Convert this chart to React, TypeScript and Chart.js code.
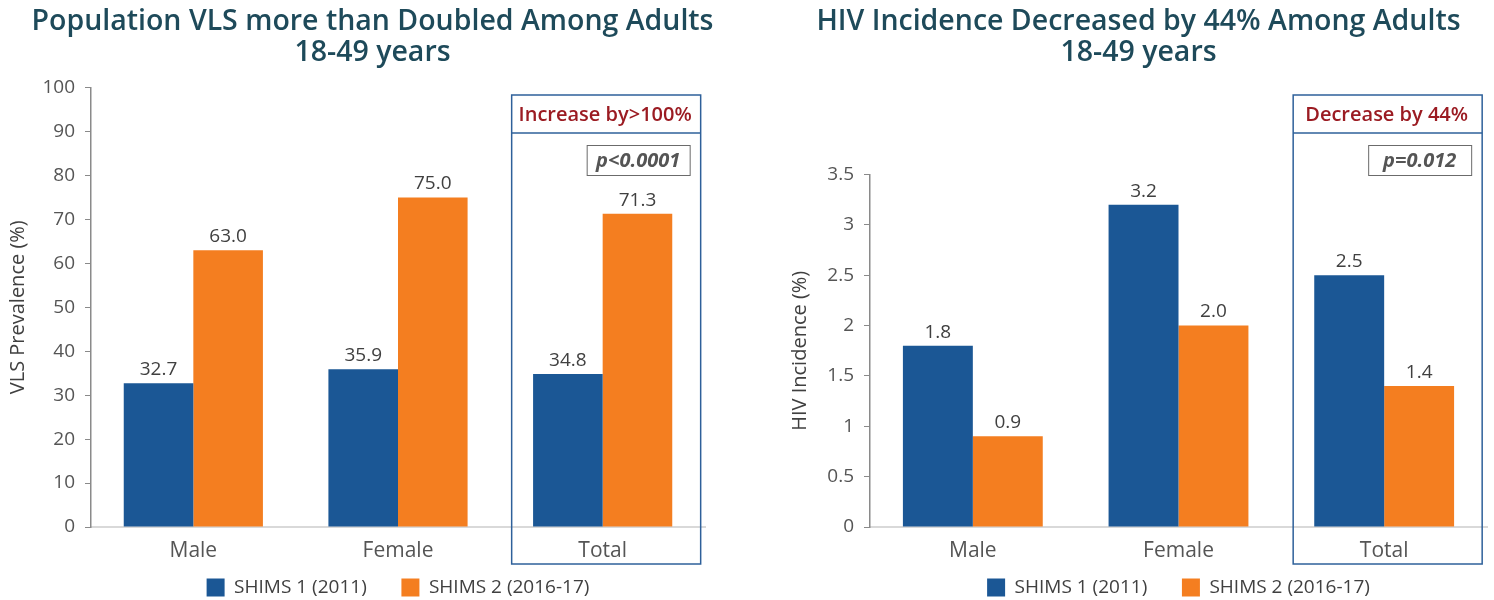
import React, { useEffect, useRef } from "react";
import { Chart, registerables } from "chart.js";

Chart.register(...registerables);

const categories = ["Male", "Female", "Total"];
const seriesNames = ["SHIMS 1 (2011)", "SHIMS 2 (2016-17)"];
const seriesColors = ["#1b5795", "#f47e20"];

const vlsShims1 = [32.7, 35.9, 34.8];
const vlsShims2 = [63.0, 75.0, 71.3];
const vlsAxis = { min: 0, max: 100, step: 10 };

const incShims1 = [1.8, 3.2, 2.5];
const incShims2 = [0.9, 2.0, 1.4];
const incAxis = { min: 0, max: 3.5, step: 0.5 };

const leftTitle = ["Population VLS more than Doubled Among Adults", "18-49 years"];
const rightTitle = ["HIV Incidence Decreased by 44% Among Adults", "18-49 years"];
const leftYTitle = "VLS Prevalence (%)";
const rightYTitle = "HIV Incidence (%)";
const leftHeader = "Increase by>100%";
const rightHeader = "Decrease by 44%";
const leftP = "p<0.0001";
const rightP = "p=0.012";

const FONT = '"Open Sans", "Noto Sans", sans-serif';

const panelPlugin = {
  id: "panelAnnotations",
  afterDatasetsDraw(chart: any) {
    const ctx = chart.ctx;
    ctx.save();
    ctx.font = `19px ${FONT}`;
    ctx.fillStyle = "#404040";
    ctx.textAlign = "center";
    ctx.textBaseline = "bottom";
    chart.data.datasets.forEach((ds: any, di: number) => {
      const meta = chart.getDatasetMeta(di);
      meta.data.forEach((el: any, i: number) => {
        ctx.fillText(Number(ds.data[i]).toFixed(1), el.x, el.y - 4);
      });
    });
    ctx.restore();
  },
  afterDraw(chart: any, _args: any, opts: any) {
    const ctx = chart.ctx;
    const xs = chart.scales.x;
    const cx = xs.getPixelForValue(opts.boxIndex);
    const left = cx - 91;
    const right = cx + 98;
    const top = 95;
    const sep = 133;
    const bottom = chart.chartArea.bottom + 37;
    ctx.save();
    ctx.strokeStyle = "#2e609a";
    ctx.lineWidth = 1.5;
    ctx.strokeRect(left, top, right - left, bottom - top);
    ctx.beginPath();
    ctx.moveTo(left, sep);
    ctx.lineTo(right, sep);
    ctx.stroke();
    ctx.fillStyle = "#9b1b22";
    ctx.font = `600 20px ${FONT}`;
    ctx.textAlign = "center";
    ctx.textBaseline = "middle";
    ctx.fillText(opts.header, (left + right) / 2 - 1, (top + sep) / 2 + 1);
    // p-value box
    const pl = cx - 16;
    const pr = cx + 87;
    const pt = 145;
    const pb = 175;
    ctx.fillStyle = "#ffffff";
    ctx.fillRect(pl, pt, pr - pl, pb - pt);
    ctx.strokeStyle = "#6b6b6b";
    ctx.lineWidth = 1;
    ctx.strokeRect(pl + 0.5, pt + 0.5, pr - pl, pb - pt);
    ctx.fillStyle = "#555555";
    ctx.font = `italic 700 20px ${FONT}`;
    ctx.fillText(opts.pText, (pl + pr) / 2, (pt + pb) / 2 + 1);
    ctx.restore();
  },
};

type PanelProps = {
  left: number;
  title: string[];
  yTitle: string;
  s1: number[];
  s2: number[];
  axis: { min: number; max: number; step: number };
  header: string;
  pText: string;
  padLeft: number;
  padRight: number;
  yWidth: number;
  rightWidth: number;
  titleBottom: number;
  yTitlePad: number;
};

function Panel(p: PanelProps) {
  const ref = useRef<HTMLCanvasElement | null>(null);
  useEffect(() => {
    if (!ref.current) return;
    const chart = new Chart(ref.current, {
      type: "bar",
      data: {
        labels: categories,
        datasets: [
          {
            label: seriesNames[0],
            data: p.s1,
            backgroundColor: seriesColors[0],
            borderWidth: 0,
            categoryPercentage: 0.68,
            barPercentage: 1,
          },
          {
            label: seriesNames[1],
            data: p.s2,
            backgroundColor: seriesColors[1],
            borderWidth: 0,
            categoryPercentage: 0.68,
            barPercentage: 1,
          },
        ],
      },
      options: {
        responsive: false,
        maintainAspectRatio: false,
        animation: false,
        devicePixelRatio: 1,
        layout: { padding: { left: p.padLeft, right: p.padRight, top: 0, bottom: -7 } },
        plugins: {
          tooltip: { enabled: false },
          title: {
            display: true,
            text: p.title,
            color: "#1e4a5a",
            font: { family: FONT, size: 28.5, weight: "600", lineHeight: 1.088 },
            padding: { top: 6.5, bottom: p.titleBottom },
          },
          legend: {
            position: "bottom",
            fullSize: false,
            labels: {
              boxWidth: 18,
              boxHeight: 18,
              padding: 10,
              color: "#404040",
              font: { family: FONT, size: 19 },
              generateLabels: (chart: any) => {
                const items = Chart.defaults.plugins.legend.labels.generateLabels(chart);
                return items.map((it: any, i: number) =>
                  i < items.length - 1 ? { ...it, text: it.text + "     " } : it
                );
              },
            },
          },
          panelAnnotations: { boxIndex: 2, header: p.header, pText: p.pText },
        } as any,
        scales: {
          x: {
            type: "category",
            grid: { display: false, drawTicks: false },
            border: { display: true, color: "#d9d9d9", width: 2 },
            ticks: { color: "#555555", font: { family: FONT, size: 21 }, padding: 11 },
            afterFit: (s: any) => {
              s.height = 41;
            },
          },
          y: {
            type: "linear",
            min: p.axis.min,
            max: p.axis.max,
            grid: {
              display: true,
              drawOnChartArea: false,
              drawTicks: true,
              tickLength: 6,
              color: "#8a8a8a",
              lineWidth: 1,
            },
            border: { display: true, color: "#8a8a8a", width: 1.5 },
            ticks: {
              stepSize: p.axis.step,
              color: "#555555",
              font: { family: FONT, size: 19 },
              padding: 10,
              callback: (v: any) => String(Number(v)),
            },
            title: {
              display: true,
              text: p.yTitle,
              color: "#404040",
              font: { family: FONT, size: 20 },
              padding: { top: p.yTitlePad, bottom: 0 },
            },
            afterFit: (s: any) => {
              s.width = p.yWidth;
            },
          },
          yRight: {
            type: "linear",
            position: "right",
            display: true,
            grid: { display: false },
            ticks: { display: false },
            border: { display: false },
            afterFit: (s: any) => {
              s.width = p.rightWidth;
            },
          },
        },
      } as any,
      plugins: [panelPlugin as any],
    });
    return () => chart.destroy();
  }, []);
  return (
    <div style={{ position: "absolute", left: p.left, top: 0, width: 747, height: 600 }}>
      <canvas ref={ref} width={747} height={600} style={{ display: "block", width: 747, height: 600 }} />
    </div>
  );
}

export default function App() {
  return (
    <div
      style={{
        position: "absolute",
        left: 0,
        top: 0,
        width: 1494,
        height: 600,
        background: "#ffffff",
        overflow: "hidden",
      }}
    >
      <Panel
        left={0}
        title={leftTitle}
        yTitle={leftYTitle}
        s1={vlsShims1}
        s2={vlsShims2}
        axis={vlsAxis}
        header={leftHeader}
        pText={leftP}
        padLeft={0}
        padRight={2}
        yWidth={91}
        rightWidth={40}
        titleBottom={19}
        yTitlePad={6}
      />
      <Panel
        left={747}
        title={rightTitle}
        yTitle={rightYTitle}
        s1={incShims1}
        s2={incShims2}
        axis={incAxis}
        header={rightHeader}
        pText={rightP}
        padLeft={36}
        padRight={0}
        yWidth={87}
        rightWidth={7}
        titleBottom={106}
        yTitlePad={5}
      />
    </div>
  );
}
